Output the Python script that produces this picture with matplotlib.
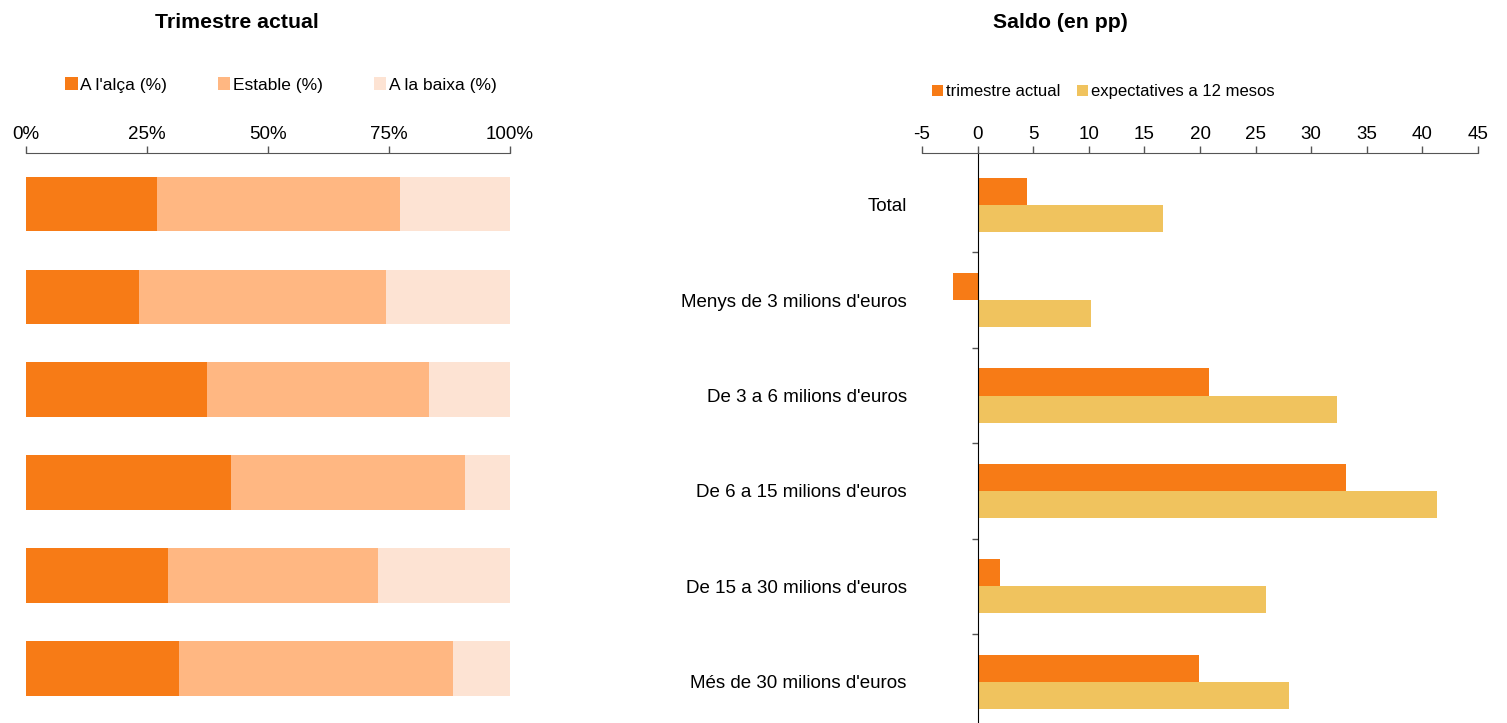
import matplotlib
matplotlib.use('Agg')
import matplotlib.pyplot as plt
import numpy as np

plt.rcParams['font.family'] = ['Liberation Sans', 'DejaVu Sans']

# Dades
categories = ['Total', 'Menys de 3 milions d\'euros', 'De 3 a 6 milions d\'euros',
              'De 6 a 15 milions d\'euros', 'De 15 a 30 milions d\'euros', 'Més de 30 milions d\'euros']
alca = [27.1, 23.3, 37.4, 42.4, 29.3, 31.6]
estable = [50.2, 51.1, 45.9, 48.3, 43.4, 56.6]
baixa = [22.7, 25.6, 16.7, 9.3, 27.3, 11.8]
saldo_actual = [4.4, -2.2, 20.8, 33.1, 2.0, 19.9]
saldo_12m = [16.7, 10.2, 32.3, 41.3, 25.9, 28.0]
pct_ticks = [0, 25, 50, 75, 100]
pct_labels = ['0%', '25%', '50%', '75%', '100%']
saldo_ticks = [-5, 0, 5, 10, 15, 20, 25, 30, 35, 40, 45]

c_alca = '#F77B16'
c_estable = '#FFB782'
c_baixa = '#FDE3D3'
c_12m = '#F0C35E'

W, H = 1507, 723
fig = plt.figure(figsize=(W / 100, H / 100), dpi=100)

fs_tick = 13.5
fs_leg = 12.5
fs_title = 15.3

# ---- left: stacked bars
axL = fig.add_axes([26 / W, 0, (510 - 26) / W, 1 - 153 / H])
y = np.arange(len(categories))
left = np.zeros(len(categories))
for vals, col, lab in [(alca, c_alca, "A l'alça (%)"), (estable, c_estable, 'Estable (%)'),
                       (baixa, c_baixa, 'A la baixa (%)')]:
    axL.barh(y, vals, left=left, height=0.59, color=col, label=lab)
    left += np.array(vals)
axL.set_xlim(0, 100)
axL.set_ylim(5.59, -0.55)
axL.xaxis.tick_top()
axL.set_xticks(pct_ticks)
axL.set_xticklabels(pct_labels, fontsize=fs_tick)
axL.tick_params(axis='x', length=5, width=1, color='#555555', pad=2)
axL.set_yticks([])
for s in ['left', 'right', 'bottom']:
    axL.spines[s].set_visible(False)
axL.spines['top'].set_color('#555555')
axL.legend(loc='center', bbox_to_anchor=((281 - 26) / (510 - 26), (H - 85) / (H - 153)), ncol=3,
           frameon=False, fontsize=fs_leg, handlelength=0.7, handleheight=0.7, handletextpad=0.15,
           columnspacing=2.95, borderaxespad=0)

fig.text(237 / W, 1 - 22 / H, 'Trimestre actual', ha='center', va='center',
         fontsize=fs_title, fontweight='bold')

# ---- right: saldo
axR = fig.add_axes([922 / W, 0, (1478 - 922) / W, 1 - 153 / H])
h = 0.283
axR.barh(y - h / 2, saldo_actual, height=h, color=c_alca, label='trimestre actual')
axR.barh(y + h / 2, saldo_12m, height=h, color=c_12m, label='expectatives a 12 mesos')
axR.set_xlim(-5, 45)
axR.set_ylim(5.43, -0.54)
axR.xaxis.tick_top()
axR.set_xticks(saldo_ticks)
axR.set_xticklabels([str(t) for t in saldo_ticks], fontsize=fs_tick)
axR.tick_params(axis='x', length=5, width=1, color='#555555', pad=2)
axR.spines['left'].set_position(('data', 0))
axR.spines['top'].set_color('#555555')
for s in ['right', 'bottom']:
    axR.spines[s].set_visible(False)
axR.set_yticks(y)
axR.set_yticklabels(categories, fontsize=fs_tick)
axR.set_yticks(np.arange(0.5, len(categories) - 0.5, 1), minor=True)
axR.tick_params(axis='y', which='major', length=0, pad=51)
axR.tick_params(axis='y', which='minor', length=4, width=1, color='#555555')
axR.legend(loc='center', bbox_to_anchor=((1103 - 922) / (1478 - 922), (H - 92) / (H - 153)), ncol=2,
           frameon=False, fontsize=fs_leg - 0.5, handlelength=0.7, handleheight=0.7, handletextpad=0.15,
           columnspacing=1.0, borderaxespad=0)

fig.text(1060 / W, 1 - 22 / H, 'Saldo (en pp)', ha='center', va='center',
         fontsize=fs_title, fontweight='bold')

fig.savefig('out.png', dpi=100)
